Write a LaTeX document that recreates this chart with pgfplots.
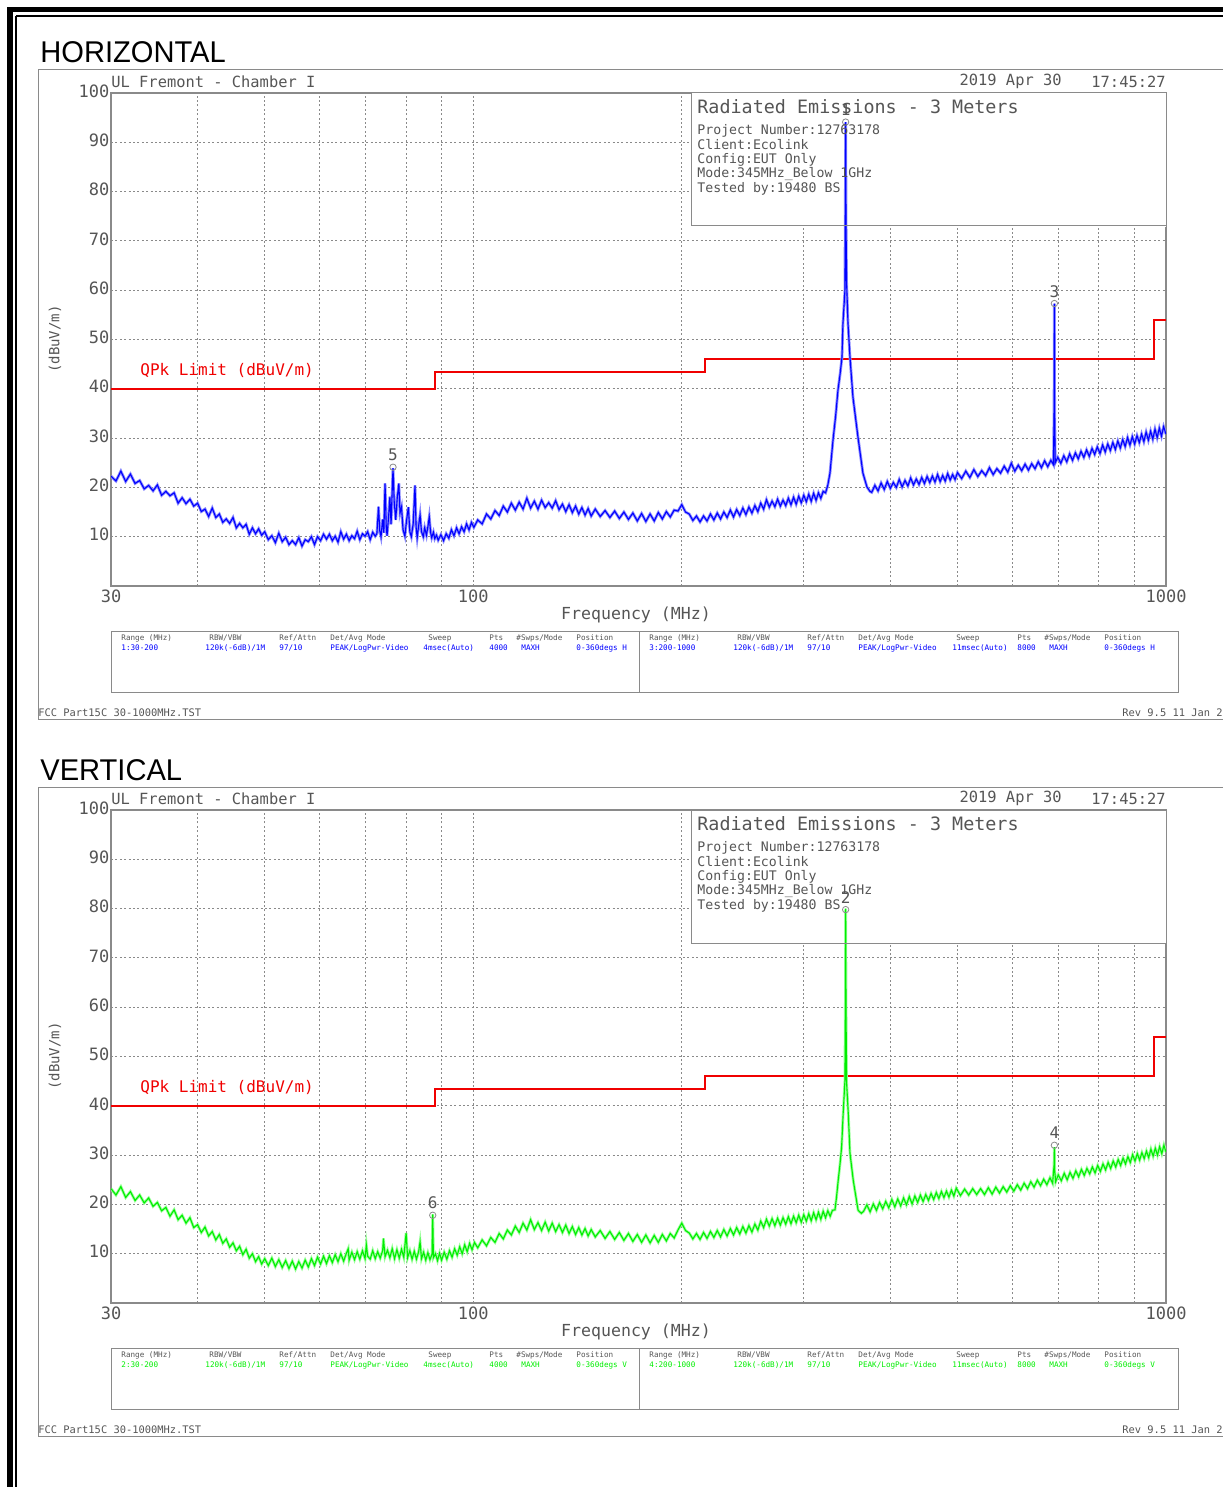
\documentclass[border=0pt]{standalone}
\usepackage{pgfplots}
\usepackage{pgfplotstable}
\pgfplotsset{compat=1.18}
\usepackage{fontspec}
\setmainfont{DejaVu Sans Mono}
\newfontfamily\af{Liberation Sans}
\definecolor{tx}{HTML}{555555}
\definecolor{gr}{HTML}{8A8A8A}
\definecolor{tb}{HTML}{0000FF}
\definecolor{tbl}{HTML}{8C8CFF}
\definecolor{tg}{HTML}{00EE00}
\definecolor{tgl}{HTML}{9CFF9C}
\definecolor{lr}{HTML}{F00000}
\newcommand\fA{\fontsize{8.5pt}{9pt}\selectfont}
\newcommand\fB{\fontsize{7.7pt}{8pt}\selectfont}
\newcommand\fC{\fontsize{9.2pt}{10pt}\selectfont}
\newcommand\fD{\fontsize{6.6pt}{7pt}\selectfont}
\newcommand\fE{\fontsize{8.3pt}{9pt}\selectfont}
\newcommand\fF{\fontsize{8pt}{9pt}\selectfont}
\newcommand\fG{\fontsize{7pt}{8pt}\selectfont}
\newcommand\fH{\fontsize{3.82pt}{4pt}\selectfont}
\newcommand\fI{\fontsize{5.2pt}{6pt}\selectfont}

% horizontal polarisation trace (MHz, dBuV/m)
\pgfplotstableread[row sep=\\]{f v\\
30.0 22.3\\ 30.5 21.3\\ 31.0 23.3\\ 31.5 21.2\\ 32.0 22.7\\ 32.5 20.8\\ 33.0 21.4\\ 33.5 19.7\\ 34.0 20.4\\ 34.5 19.3\\
35.0 20.5\\ 35.5 18.4\\ 36.0 19.2\\ 36.5 18.3\\ 37.0 18.9\\ 37.5 16.8\\ 38.0 17.9\\ 38.5 16.7\\ 39.0 17.6\\ 39.5 16.2\\
40.0 16.8\\ 40.5 15.1\\ 41.0 15.6\\ 41.5 14.1\\ 42.0 15.8\\ 42.5 13.9\\ 43.0 14.6\\ 43.5 12.9\\ 44.0 13.6\\ 44.5 12.7\\
45.0 13.9\\ 45.5 11.8\\ 46.0 12.7\\ 46.5 11.8\\ 47.0 12.5\\ 47.5 10.5\\ 48.0 11.8\\ 48.5 10.6\\ 49.0 11.6\\ 49.5 10.3\\
50.0 11.0\\ 50.6 9.4\\ 51.2 10.2\\ 51.8 8.8\\ 52.4 10.7\\ 53.0 9.0\\ 53.6 9.9\\ 54.2 8.4\\ 54.8 9.2\\ 55.4 8.4\\
56.0 9.8\\ 56.6 8.1\\ 57.2 9.4\\ 57.8 9.0\\ 58.4 10.0\\ 59.0 8.4\\ 59.6 10.0\\ 60.2 9.2\\ 60.8 10.5\\ 61.4 9.5\\
62.0 10.5\\ 62.6 9.2\\ 63.2 10.1\\ 63.8 8.9\\ 64.4 11.0\\ 65.0 9.5\\ 65.6 10.5\\ 66.2 9.2\\ 66.8 10.2\\ 67.4 9.6\\
68.0 11.1\\ 68.6 9.4\\ 69.2 10.6\\ 69.8 10.1\\ 70.4 11.0\\ 71.0 9.4\\ 71.6 10.9\\ 72.2 10.1\\
72.6 10.6\\ 73.0 16.1\\ 73.3 11.2\\ 73.6 10.0\\ 74.0 13.5\\ 74.3 10.8\\ 74.6 20.8\\ 74.9 12.0\\ 75.1 10.2\\ 75.5 14.2\\
75.8 18.1\\ 76.1 12.5\\ 76.4 19.5\\ 76.6 23.9\\ 76.9 17.2\\ 77.3 13.4\\ 77.7 18.0\\ 78.1 20.8\\ 78.4 14.8\\ 78.8 16.0\\
79.2 11.4\\ 79.7 10.1\\ 80.1 13.2\\ 80.6 16.0\\ 81.0 11.0\\ 81.4 10.0\\ 81.9 12.6\\ 82.4 20.4\\ 82.7 12.0\\ 83.0 9.8\\
83.4 12.2\\ 83.8 14.4\\ 84.2 11.0\\ 84.7 10.0\\ 85.1 11.8\\ 85.6 10.3\\ 86.0 12.0\\ 86.4 14.0\\ 86.8 10.8\\ 87.1 9.8\\
87.6 10.9\\ 88.0 9.6\\ 88.5 10.3\\
89.0 9.3\\ 89.8 10.4\\ 90.6 9.2\\ 91.4 10.6\\ 92.2 9.7\\ 93.0 11.4\\ 93.8 10.2\\ 94.6 11.8\\ 95.4 10.6\\ 96.2 12.0\\
97.0 11.0\\ 97.8 12.6\\ 98.6 11.4\\ 99.4 12.9\\ 100.2 11.9\\
101.5 13.4\\ 103.0 12.6\\ 104.5 14.6\\ 106.0 13.6\\ 107.5 15.3\\ 109.0 14.3\\ 110.5 16.2\\ 112.0 15.0\\ 113.5 16.8\\ 115.0 15.4\\
116.5 17.0\\ 118.0 15.6\\ 119.5 17.8\\ 121.0 15.8\\ 122.5 17.2\\ 124.0 15.6\\ 125.5 17.4\\ 127.0 15.9\\ 128.5 16.9\\ 130.0 15.8\\
131.5 17.3\\ 133.0 15.5\\ 134.5 16.6\\ 136.0 15.1\\ 137.5 16.5\\ 139.0 14.9\\ 140.5 16.2\\ 142.0 14.6\\ 143.5 15.9\\ 145.0 14.4\\
146.5 15.7\\ 148.0 14.2\\ 150.0 15.6\\ 152.5 14.1\\ 155.0 15.3\\ 157.5 13.9\\ 160.0 15.2\\ 162.5 13.7\\ 165.0 15.0\\ 167.5 13.5\\
170.0 14.8\\ 172.5 13.2\\ 175.0 14.7\\ 177.5 13.1\\ 180.0 14.6\\ 182.5 13.2\\ 185.0 14.9\\ 187.5 13.6\\ 190.0 15.1\\ 192.5 14.0\\
195.0 15.4\\ 197.5 15.2\\ 200.0 16.5\\ 202.5 15.0\\ 205.0 14.6\\ 207.5 13.3\\ 210.0 14.2\\ 212.5 13.0\\
215.0 14.2\\ 217.5 13.2\\ 220.0 14.6\\ 222.5 13.4\\ 225.0 14.8\\ 227.5 13.6\\ 230.0 15.0\\ 232.5 13.9\\ 235.0 15.4\\ 237.5 14.0\\
240.0 15.5\\ 242.5 14.3\\ 245.0 15.8\\ 247.5 14.5\\ 250.0 16.0\\ 252.5 14.8\\ 255.0 16.3\\ 257.5 15.1\\ 260.0 16.8\\ 262.5 15.6\\
265.0 17.5\\ 267.5 16.0\\ 270.0 17.2\\ 272.5 16.1\\ 275.0 17.6\\ 277.5 16.2\\ 280.0 17.4\\ 282.5 16.3\\ 285.0 17.8\\ 287.5 16.5\\
290.0 18.0\\ 292.5 16.6\\ 295.0 18.2\\ 297.5 16.9\\ 300.0 18.4\\ 302.5 17.1\\ 305.0 18.6\\ 307.5 17.2\\ 310.0 18.8\\ 312.5 17.4\\
315.0 18.9\\ 317.5 17.8\\ 320.0 19.2\\ 322.5 18.9\\ 325.0 20.5\\ 327.3 22.9\\
330.6 29.6\\ 333.5 34.5\\ 336.1 39.7\\ 338.5 43.0\\ 340.6 46.4\\ 341.7 53.2\\ 343.0 57.0\\ 344.0 60.0\\ 344.4 75.0\\ 344.8 94.1\\
345.2 75.0\\ 345.8 62.0\\ 347.5 53.2\\ 349.8 46.4\\ 353.3 38.3\\ 359.2 30.2\\ 365.2 22.9\\ 370.1 20.1\\ 373.8 19.2\\
376 19.0\\ 380 20.4\\ 384 19.3\\ 388 20.9\\ 392 19.6\\ 396 21.2\\ 400 19.8\\ 404 21.0\\ 408 20.0\\ 412 21.6\\
416 20.1\\ 420 21.4\\ 424 20.3\\ 428 21.9\\ 432 20.5\\ 436 21.7\\ 440 20.6\\ 444 22.0\\ 448 20.8\\ 452 22.2\\
456 21.0\\ 460 22.3\\ 464 21.1\\ 468 22.6\\ 472 21.2\\ 476 22.4\\ 480 21.3\\ 484 22.8\\ 488 21.5\\ 492 22.6\\
496 21.6\\ 500 23.0\\ 507 21.8\\ 514 23.3\\ 521 22.0\\ 528 23.6\\ 535 22.2\\ 542 23.4\\ 549 22.4\\ 556 24.0\\
563 22.6\\ 570 23.8\\ 577 22.9\\ 584 24.3\\ 591 23.1\\ 598 24.9\\ 605 23.3\\ 612 24.5\\ 619 23.4\\ 626 24.7\\
633 23.5\\ 640 24.8\\ 647 23.8\\ 654 25.2\\ 661 24.0\\ 668 25.4\\ 675 24.2\\ 682 25.5\\ 688 24.6\\ 689.4 36.0\\
690 57.3\\ 690.6 35.0\\ 692 25.0\\ 698 26.1\\ 705 24.9\\ 712 26.4\\ 719 25.2\\ 726 26.8\\ 733 25.5\\ 740 27.0\\
747 25.8\\ 754 27.3\\ 761 26.1\\ 768 27.6\\ 775 26.3\\ 782 27.9\\ 789 26.7\\ 796 28.2\\ 803 26.9\\ 810 28.6\\
817 27.2\\ 824 28.8\\ 831 27.5\\ 838 29.1\\ 845 27.7\\ 852 29.4\\ 859 28.0\\ 866 29.7\\ 873 28.3\\ 880 30.1\\
887 28.6\\ 894 30.3\\ 901 28.8\\ 908 30.5\\ 915 29.1\\ 922 30.8\\ 929 29.3\\ 936 31.2\\ 943 29.6\\ 950 31.4\\
957 29.8\\ 964 31.8\\ 971 30.1\\ 978 32.0\\ 985 30.4\\ 992 32.3\\ 1000 30.8\\
}\Hdata

% vertical polarisation trace (MHz, dBuV/m)
\pgfplotstableread[row sep=\\]{f v\\
30.0 23.2\\ 30.5 21.9\\ 31.0 23.6\\ 31.5 21.4\\ 32.0 22.6\\ 32.5 20.8\\ 33.0 21.9\\ 33.5 20.3\\ 34.0 21.3\\ 34.5 19.6\\
35.0 20.4\\ 35.5 18.7\\ 36.0 19.4\\ 36.5 17.6\\ 37.0 18.9\\ 37.5 16.9\\ 38.0 17.8\\ 38.5 16.2\\ 39.0 17.3\\ 39.5 15.3\\
40.0 15.9\\ 40.5 14.3\\ 41.0 15.4\\ 41.5 13.6\\ 42.0 14.5\\ 42.5 12.8\\ 43.0 13.9\\ 43.5 12.1\\ 44.0 13.0\\ 44.5 11.3\\
45.0 12.2\\ 45.5 10.6\\ 46.0 11.5\\ 46.5 9.8\\ 47.0 10.9\\ 47.5 9.1\\ 48.0 10.0\\ 48.5 8.4\\ 49.0 9.4\\ 49.5 7.9\\
50.0 9.0\\ 50.6 7.6\\ 51.2 9.1\\ 51.8 7.4\\ 52.4 8.8\\ 53.0 7.2\\ 53.6 8.6\\ 54.2 7.0\\ 54.8 8.5\\ 55.4 6.9\\
56.0 8.4\\ 56.6 7.1\\ 57.2 8.7\\ 57.8 7.3\\ 58.4 9.0\\ 59.0 7.6\\ 59.6 9.3\\ 60.2 7.9\\ 60.8 9.5\\ 61.4 8.0\\
62.0 9.6\\ 62.6 8.2\\ 63.2 9.8\\ 63.8 8.4\\ 64.4 10.0\\ 65.0 8.5\\ 65.6 10.1\\ 66.0 11.0\\ 66.2 8.7\\ 66.8 10.3\\
67.4 8.8\\ 68.0 10.4\\ 68.6 8.9\\ 69.2 10.6\\ 69.8 9.0\\ 70.1 11.8\\ 70.4 9.5\\ 71.0 8.9\\ 71.6 10.6\\ 72.2 9.0\\
72.8 10.4\\ 73.4 9.1\\ 74.0 10.6\\ 74.2 13.1\\ 74.6 9.4\\ 75.2 10.7\\ 75.8 9.2\\ 76.4 11.0\\ 77.0 9.0\\ 77.6 10.8\\
78.2 9.1\\ 78.8 10.9\\ 79.4 9.3\\ 80.0 14.2\\ 80.4 9.2\\ 81.0 10.6\\ 81.6 8.9\\ 82.2 10.5\\ 82.8 8.9\\ 83.4 10.4\\
83.8 12.4\\ 84.2 9.0\\ 84.8 10.3\\ 85.4 8.7\\ 86.0 10.2\\ 86.6 8.8\\ 87.2 9.9\\ 87.4 18.0\\ 87.6 9.2\\ 88.2 10.0\\
88.8 8.6\\ 89.4 10.1\\ 90.0 8.7\\ 90.8 10.3\\ 91.6 8.9\\ 92.4 10.6\\ 93.2 9.3\\ 94.0 11.0\\ 94.8 9.7\\ 95.6 11.4\\
96.4 10.0\\ 97.2 11.8\\ 98.0 10.4\\ 98.8 12.1\\ 99.6 10.8\\ 100.4 12.3\\
101.5 11.2\\ 103.0 12.8\\ 104.5 11.6\\ 106.0 13.3\\ 107.5 12.3\\ 109.0 14.1\\ 110.5 13.0\\ 112.0 14.8\\ 113.5 13.8\\ 115.0 15.6\\
116.5 14.3\\ 118.0 16.2\\ 119.5 14.8\\ 121.0 16.9\\ 122.5 14.9\\ 124.0 16.3\\ 125.5 14.7\\ 127.0 16.4\\ 128.5 14.6\\ 130.0 16.2\\
131.5 14.5\\ 133.0 15.9\\ 134.5 14.3\\ 136.0 15.8\\ 137.5 14.1\\ 139.0 15.5\\ 140.5 13.9\\ 142.0 15.3\\ 143.5 13.8\\ 145.0 15.1\\
146.5 13.6\\ 148.0 14.9\\ 150.0 13.4\\ 152.5 14.7\\ 155.0 13.1\\ 157.5 14.5\\ 160.0 12.9\\ 162.5 14.3\\ 165.0 12.7\\ 167.5 14.1\\
170.0 12.5\\ 172.5 13.9\\ 175.0 12.3\\ 177.5 13.8\\ 180.0 12.2\\ 182.5 13.7\\ 185.0 12.3\\ 187.5 13.9\\ 190.0 12.6\\ 192.5 14.1\\
195.0 13.2\\ 197.5 14.8\\ 200.0 16.2\\ 202.5 14.7\\ 205.0 14.2\\ 207.5 13.0\\ 210.0 14.1\\ 212.5 12.9\\
215.0 14.3\\ 217.5 13.1\\ 220.0 14.5\\ 222.5 13.3\\ 225.0 14.7\\ 227.5 13.4\\ 230.0 14.9\\ 232.5 13.6\\ 235.0 15.1\\ 237.5 13.8\\
240.0 15.3\\ 242.5 14.0\\ 245.0 15.5\\ 247.5 14.2\\ 250.0 15.7\\ 252.5 14.4\\ 255.0 16.0\\ 257.5 14.8\\ 260.0 16.6\\ 262.5 15.3\\
265.0 17.0\\ 267.5 15.6\\ 270.0 17.1\\ 272.5 15.7\\ 275.0 17.2\\ 277.5 15.8\\ 280.0 17.3\\ 282.5 16.0\\ 285.0 17.5\\ 287.5 16.1\\
290.0 17.6\\ 292.5 16.3\\ 295.0 17.8\\ 297.5 16.4\\ 300.0 17.9\\ 302.5 16.6\\ 305.0 18.1\\ 307.5 16.7\\ 310.0 18.3\\ 312.5 16.9\\
315.0 18.4\\ 317.5 17.0\\ 320.0 18.6\\ 322.5 17.3\\ 325.0 18.7\\ 327.5 17.6\\ 330.0 18.8\\
332.8 18.9\\ 334.5 21.5\\ 336.4 24.9\\ 338.3 28.0\\ 340.2 31.6\\ 342.0 38.5\\ 344.0 45.1\\ 344.5 61.3\\ 344.8 80.0\\ 345.2 61.3\\
345.8 45.0\\ 347.8 38.5\\ 349.8 30.4\\ 353.6 24.9\\ 359.4 18.8\\ 363.3 18.2\\
366 18.6\\ 370 19.9\\ 374 18.5\\ 378 20.1\\ 382 18.8\\ 386 20.4\\ 390 19.1\\ 394 20.6\\ 398 19.3\\ 402 21.0\\
406 19.5\\ 410 21.1\\ 414 19.7\\ 418 21.3\\ 422 19.9\\ 426 21.6\\ 430 20.1\\ 434 21.7\\ 438 20.4\\ 442 21.9\\
446 20.6\\ 450 22.0\\ 454 20.8\\ 458 22.2\\ 462 21.0\\ 466 22.4\\ 470 21.2\\ 474 22.6\\ 478 21.4\\ 482 22.7\\
486 21.5\\ 490 22.9\\ 494 21.7\\ 498 23.3\\ 505 21.8\\ 512 23.1\\ 519 21.9\\ 526 23.2\\ 533 22.0\\ 540 23.2\\
547 22.0\\ 554 23.4\\ 561 22.1\\ 568 23.5\\ 575 22.3\\ 582 23.6\\ 589 22.5\\ 596 23.8\\ 603 22.7\\ 610 24.0\\
617 22.9\\ 624 24.3\\ 631 23.2\\ 638 24.6\\ 645 23.5\\ 652 24.9\\ 659 23.8\\ 666 25.1\\ 673 24.0\\ 680 25.4\\
686 24.3\\ 689.4 28.0\\ 690 31.6\\ 690.6 27.0\\ 693 24.6\\ 699 26.0\\ 706 24.8\\ 713 26.3\\ 720 25.0\\ 727 26.5\\
734 25.3\\ 741 26.8\\ 748 25.6\\ 755 27.1\\ 762 25.9\\ 769 27.3\\ 776 26.2\\ 783 27.6\\ 790 26.4\\ 797 27.9\\
804 26.7\\ 811 28.2\\ 818 27.0\\ 825 28.5\\ 832 27.3\\ 839 28.8\\ 846 27.6\\ 853 29.1\\ 860 27.9\\ 867 29.4\\
874 28.2\\ 881 29.7\\ 888 28.5\\ 895 30.1\\ 902 28.8\\ 909 30.3\\ 916 29.0\\ 923 30.5\\ 930 29.3\\ 937 30.8\\
944 29.5\\ 951 31.2\\ 958 29.8\\ 965 31.4\\ 972 30.0\\ 979 31.7\\ 986 30.3\\ 993 32.0\\ 1000 30.6\\
}\Vdata

% panel decorations: #1 shift(px) #2 title #3 colour #4 left range #5 right range #6 polarisation
\newcommand\panel[6]{%
\begin{scope}[x=0.5pt,y=-0.5pt,shift={(0,#1)}]
  \node[anchor=base west, inner sep=0, font=\af\fontsize{15pt}{16pt}\selectfont] at (40,63) {\scalebox{0.97}[1]{#2}};
  \draw[gr, line width=0.5pt] (1223,70) -- (38,70) -- (38,719) -- (1223,719);
  \node[anchor=west, inner sep=0, font=\fB, text=tx] at (111,81.5) {UL Fremont - Chamber I};
  \node[anchor=east, inner sep=0, font=\fB, text=tx] at (1062,81.5) {2019 Apr 30};
  \node[anchor=east, inner sep=0, font=\fB, text=tx] at (1166,81.5) {17:45:27};
  \draw[gr, line width=0.5pt] (691,93) rectangle (1166,226);
  \node[anchor=west, inner sep=0, font=\fC, text=tx] at (697,107) {Radiated Emissions - 3 Meters};
  \node[anchor=west, inner sep=0, font=\fD, text=tx] at (697,131) {Project Number:12763178};
  \node[anchor=west, inner sep=0, font=\fD, text=tx] at (697,145) {Client:Ecolink};
  \node[anchor=west, inner sep=0, font=\fD, text=tx] at (697,160) {Config:EUT Only};
  \node[anchor=west, inner sep=0, font=\fD, text=tx] at (697,174) {Mode:345MHz\_Below 1GHz};
  \node[anchor=west, inner sep=0, font=\fD, text=tx] at (697,189) {Tested by:19480 BS};
  \node[rotate=90, inner sep=0, font=\fG, text=tx] at (55,339) {(dBuV/m)};
  \node[anchor=west, inner sep=0, font=\fF, text=lr] at (140,370) {QPk Limit (dBuV/m)};
  \node[inner sep=0, font=\fE, text=tx] at (636,615) {Frequency (MHz)};
  \draw[gr, line width=0.5pt] (111,631) rectangle (1178,692);
  \draw[gr, line width=0.5pt] (639,631) -- (639,692);
  \foreach \dx in {0,528}{
    \begin{scope}[shift={(\dx,0)}]
    \node[anchor=west, inner sep=0, font=\fH, text=tx] at (121,638) {Range (MHz)};
    \node[anchor=west, inner sep=0, font=\fH, text=tx] at (209,638) {RBW/VBW};
    \node[anchor=west, inner sep=0, font=\fH, text=tx] at (279,638) {Ref/Attn};
    \node[anchor=west, inner sep=0, font=\fH, text=tx] at (330,638) {Det/Avg Mode};
    \node[anchor=west, inner sep=0, font=\fH, text=tx] at (428,638) {Sweep};
    \node[anchor=west, inner sep=0, font=\fH, text=tx] at (489,638) {Pts};
    \node[anchor=west, inner sep=0, font=\fH, text=tx] at (516,638) {\#Swps/Mode};
    \node[anchor=west, inner sep=0, font=\fH, text=tx] at (576,638) {Position};
    \node[anchor=west, inner sep=0, font=\fH, text=#3] at (205,648) {120k(-6dB)/1M};
    \node[anchor=west, inner sep=0, font=\fH, text=#3] at (279,648) {97/10};
    \node[anchor=west, inner sep=0, font=\fH, text=#3] at (330,648) {PEAK/LogPwr-Video};
    \node[anchor=west, inner sep=0, font=\fH, text=#3] at (521,648) {MAXH};
    \node[anchor=west, inner sep=0, font=\fH, text=#3] at (576,648) {0-360degs #6};
    \end{scope}}
  \node[anchor=west, inner sep=0, font=\fH, text=#3] at (121,648) {#4};
  \node[anchor=west, inner sep=0, font=\fH, text=#3] at (423,648) {4msec(Auto)};
  \node[anchor=west, inner sep=0, font=\fH, text=#3] at (489,648) {4000};
  \node[anchor=west, inner sep=0, font=\fH, text=#3] at (649,648) {#5};
  \node[anchor=west, inner sep=0, font=\fH, text=#3] at (952,648) {11msec(Auto)};
  \node[anchor=west, inner sep=0, font=\fH, text=#3] at (1017,648) {8000};
  \node[anchor=west, inner sep=0, font=\fI, text=tx] at (38,713) {FCC Part15C 30-1000MHz.TST};
  \node[anchor=east, inner sep=0, font=\fI, text=tx] at (1223,713) {Rev 9.5 11 Jan 2};
\end{scope}}

\begin{document}
\begin{tikzpicture}
\path[use as bounding box] (0,0) rectangle (611.5pt,-743.5pt);
\begin{scope}[x=0.5pt,y=-0.5pt]
  \fill[black] (7,7) rectangle (1223,12.5);
  \fill[black] (7,7) rectangle (12.5,1487);
  \draw[black, line width=0.8pt] (16,16) -- (1223,16);
  \draw[black, line width=0.8pt] (16,16) -- (16,1487);
\end{scope}

% ---------------- HORIZONTAL ----------------
\begin{axis}[
  xmode=log, xmin=30, xmax=1000, ymin=0, ymax=100,
  width=527.5pt, height=246.5pt, scale only axis, anchor=south west,
  at={(55.5pt,-293pt)},
  axis line style={gr, line width=0.6pt},
  xtick={30,100,1000}, xticklabels={30,100,1000},
  minor xtick={40,50,60,70,80,90,200,300,400,500,600,700,800,900},
  ytick={10,20,30,40,50,60,70,80,90,100},
  yticklabels={10,20,30,40,50,60,70,80,90,100},
  major tick length=0pt, minor tick length=0pt,
  grid=both,
  major grid style={gr, line width=0.5pt, dash pattern=on 1pt off 1.2pt},
  minor grid style={gr, line width=0.5pt, dash pattern=on 1pt off 1.2pt},
  tick label style={font=\fA, text=tx},
  yticklabel style={anchor=east, inner sep=0.6pt, yshift=1pt},
  xticklabel style={anchor=north, inner sep=0pt, yshift=-1.5pt}]
\fill[white] (axis cs:206.2,72.87) rectangle (axis cs:1000,100);
\addplot[lr, line width=1pt, const plot mark left] coordinates {(30,40) (88,43.5) (216,46) (960,54) (1000,54)};
\addplot[tbl, line width=1.4pt] table[x=f, y=v] {\Hdata};
\addplot[tb, line width=0.55pt] table[x=f, y=v] {\Hdata};
\addplot[gr, only marks, mark=o, mark size=1.6pt] coordinates {(344.8,94.1) (690,57.3) (76.6,24.1)};
\node[font=\fF, text=tx, inner sep=0] at (axis cs:344.8,96.6) {1};
\node[font=\fF, text=tx, inner sep=0] at (axis cs:690,59.8) {3};
\node[font=\fF, text=tx, inner sep=0] at (axis cs:76.6,26.6) {5};
\end{axis}

% ---------------- VERTICAL ----------------
\begin{axis}[
  xmode=log, xmin=30, xmax=1000, ymin=0, ymax=100,
  width=527.5pt, height=246.5pt, scale only axis, anchor=south west,
  at={(55.5pt,-651.5pt)},
  axis line style={gr, line width=0.6pt},
  xtick={30,100,1000}, xticklabels={30,100,1000},
  minor xtick={40,50,60,70,80,90,200,300,400,500,600,700,800,900},
  ytick={10,20,30,40,50,60,70,80,90,100},
  yticklabels={10,20,30,40,50,60,70,80,90,100},
  major tick length=0pt, minor tick length=0pt,
  grid=both,
  major grid style={gr, line width=0.5pt, dash pattern=on 1pt off 1.2pt},
  minor grid style={gr, line width=0.5pt, dash pattern=on 1pt off 1.2pt},
  tick label style={font=\fA, text=tx},
  yticklabel style={anchor=east, inner sep=0.6pt, yshift=1pt},
  xticklabel style={anchor=north, inner sep=0pt, yshift=-1.5pt}]
\fill[white] (axis cs:206.2,72.87) rectangle (axis cs:1000,100);
\addplot[lr, line width=1pt, const plot mark left] coordinates {(30,40) (88,43.5) (216,46) (960,54) (1000,54)};
\addplot[tgl, line width=1.4pt] table[x=f, y=v] {\Vdata};
\addplot[tg, line width=0.55pt] table[x=f, y=v] {\Vdata};
\addplot[gr, only marks, mark=o, mark size=1.6pt] coordinates {(344.8,79.8) (690,32.0) (87.4,17.8)};
\node[font=\fF, text=tx, inner sep=0] at (axis cs:344.8,82.3) {2};
\node[font=\fF, text=tx, inner sep=0] at (axis cs:690,34.5) {4};
\node[font=\fF, text=tx, inner sep=0] at (axis cs:87.4,20.3) {6};
\end{axis}

\panel{0}{HORIZONTAL}{tb}{1:30-200}{3:200-1000}{H}
\panel{717}{VERTICAL}{tg}{2:30-200}{4:200-1000}{V}
\end{tikzpicture}
\end{document}
